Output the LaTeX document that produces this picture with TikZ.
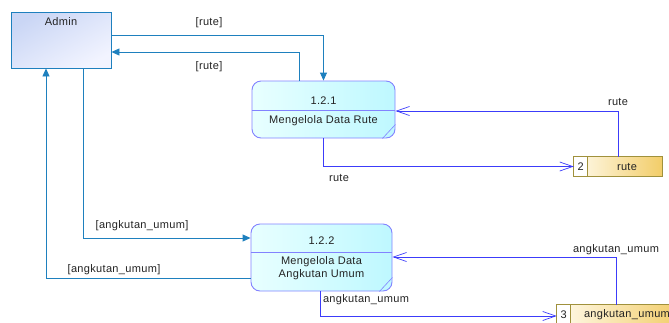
\documentclass[tikz,border=0pt]{standalone}
\usepackage{fontspec}
\setmainfont[LetterSpace=3]{Liberation Sans}
\usetikzlibrary{arrows.meta,calc}
\definecolor{admline}{RGB}{30,128,190}
\definecolor{stline}{RGB}{60,60,250}
\definecolor{procline}{RGB}{130,130,255}
\definecolor{storeline}{RGB}{160,145,60}
\definecolor{txt}{RGB}{35,35,35}
\tikzset{
  entity/.style={draw=admline, line width=0.9pt, minimum width=100pt, minimum height=56pt,
    top color={rgb,255:red,202;green,214;blue,245}, bottom color={rgb,255:red,242;green,244;blue,255},
    shading angle=30, inner sep=0pt},
  procbox/.style={draw=procline, line width=0.9pt, rounded corners=9pt, inner sep=0pt,
    left color={rgb,255:red,232;green,255;blue,255}, right color={rgb,255:red,190;green,248;blue,255}},
  storebox/.style={inner sep=0pt, minimum height=19pt,
    left color={rgb,255:red,255;green,250;blue,235}, right color={rgb,255:red,242;green,205;blue,105}},
  storeedge/.style={draw=storeline, line width=0.9pt},
  admflow/.style={draw=admline, line width=0.9pt, -{Triangle[length=8pt,width=7pt]}},
  stflow/.style={draw=stline, line width=0.9pt, -{Straight Barb[length=13pt,width=9pt,line width=0.7pt]}},
  lbl/.style={font=\fontsize{11}{12}\selectfont, text=txt, inner sep=0pt},
}
\begin{document}
\begin{tikzpicture}[x=1pt,y=-1pt]
\useasboundingbox (0,0) rectangle (669,322);
\begin{scope}
\clip (0,0) rectangle (669,322);

% external entity
\node[entity] (adm) at (61,40) {};
\node[lbl, anchor=base] (admt) at (61,25) {Admin};

% processes
\node[procbox, minimum width=143pt, minimum height=57pt] (p1) at (323.5,109.5) {};
\draw[procline, line width=0.8pt] (p1.west |- 0,110) -- (p1.east |- 0,110);
\draw[procline, line width=0.6pt] ($(p1.south east)+(0,-14)$) -- ($(p1.south east)+(-13,0)$);
\node[lbl, anchor=base] (p1n) at (323.5,104) {1.2.1};
\node[lbl, anchor=base] (p1t) at (323.5,123) {Mengelola Data Rute};

\node[procbox, minimum width=141pt, minimum height=67pt] (p2) at (321.5,257.5) {};
\draw[procline, line width=0.8pt] (p2.west |- 0,252) -- (p2.east |- 0,252);
\draw[procline, line width=0.6pt] ($(p2.south east)+(0,-14)$) -- ($(p2.south east)+(-13,0)$);
\node[lbl, anchor=base] (p2n) at (321.5,244) {1.2.2};
\node[lbl, anchor=base] (p2t) at (321.5,264) {Mengelola Data};
\node[lbl, anchor=base] (p2u) at (321.5,277) {Angkutan Umum};

% data stores: shaded body, white number cell, outline and separator
\node[storebox, minimum width=88pt] (s2) at (618,166.5) {};
\fill[white] (s2.north west) rectangle ($(s2.south west)+(14,0)$);
\draw[storeedge] (s2.north west) rectangle (s2.south east);
\draw[storeedge] ($(s2.north west)+(14,0)$) -- ($(s2.south west)+(14,0)$);
\node[lbl] (s2n) at ($(s2.west)+(7,0.5)$) {2};
\node[lbl] (s2t) at ($(s2.center)+(9,0.5)$) {rute};

\node[storebox, minimum width=124pt] (s3) at (619,314.5) {};
\fill[white] (s3.north west) rectangle ($(s3.south west)+(14,0)$);
\draw[storeedge] (s3.north west) rectangle (s3.south east);
\draw[storeedge] ($(s3.north west)+(14,0)$) -- ($(s3.south west)+(14,0)$);
\node[lbl] (s3n) at ($(s3.west)+(7,0)$) {3};
\node[lbl, anchor=west] (s3t) at ($(s3.west)+(27,0)$) {angkutan\_umum};

% flows between the entity and the processes
\draw[admflow] ([yshift=5pt]adm.east) -| (p1.north);
\draw[admflow] ([xshift=-24.5pt]p1.north) |- ([yshift=-12pt]adm.east);
\draw[admflow] ([xshift=22pt]adm.south) |- ([yshift=19.5pt]p2.west);
\draw[admflow] ([yshift=-20.5pt]p2.west) -| ([xshift=-15pt]adm.south);

% flows between the processes and the stores
\draw[stflow] (s2.north) |- ([yshift=-1.5pt]p1.east);
\draw[stflow] ([xshift=-0.5pt]p1.south) |- (s2.west);
\draw[stflow] ([xshift=-3pt]s3.north) |- ([yshift=0.5pt]p2.east);
\draw[stflow] ([xshift=-1.5pt]p2.south) |- ([yshift=-1.5pt]s3.west);

% flow labels
\node[lbl] (l1) at (209,23) {[rute]};
\node[lbl] (l2) at (209,67) {[rute]};
\node[lbl] (l3) at (618,102) {rute};
\node[lbl] (l4) at (339,178) {rute};
\node[lbl] (l5) at (142,226) {[angkutan\_umum]};
\node[lbl] (l6) at (114,270) {[angkutan\_umum]};
\node[lbl] (l7) at (616,250) {angkutan\_umum};
\node[lbl] (l8) at (366,300) {angkutan\_umum};
\end{scope}
\end{tikzpicture}
\end{document}
